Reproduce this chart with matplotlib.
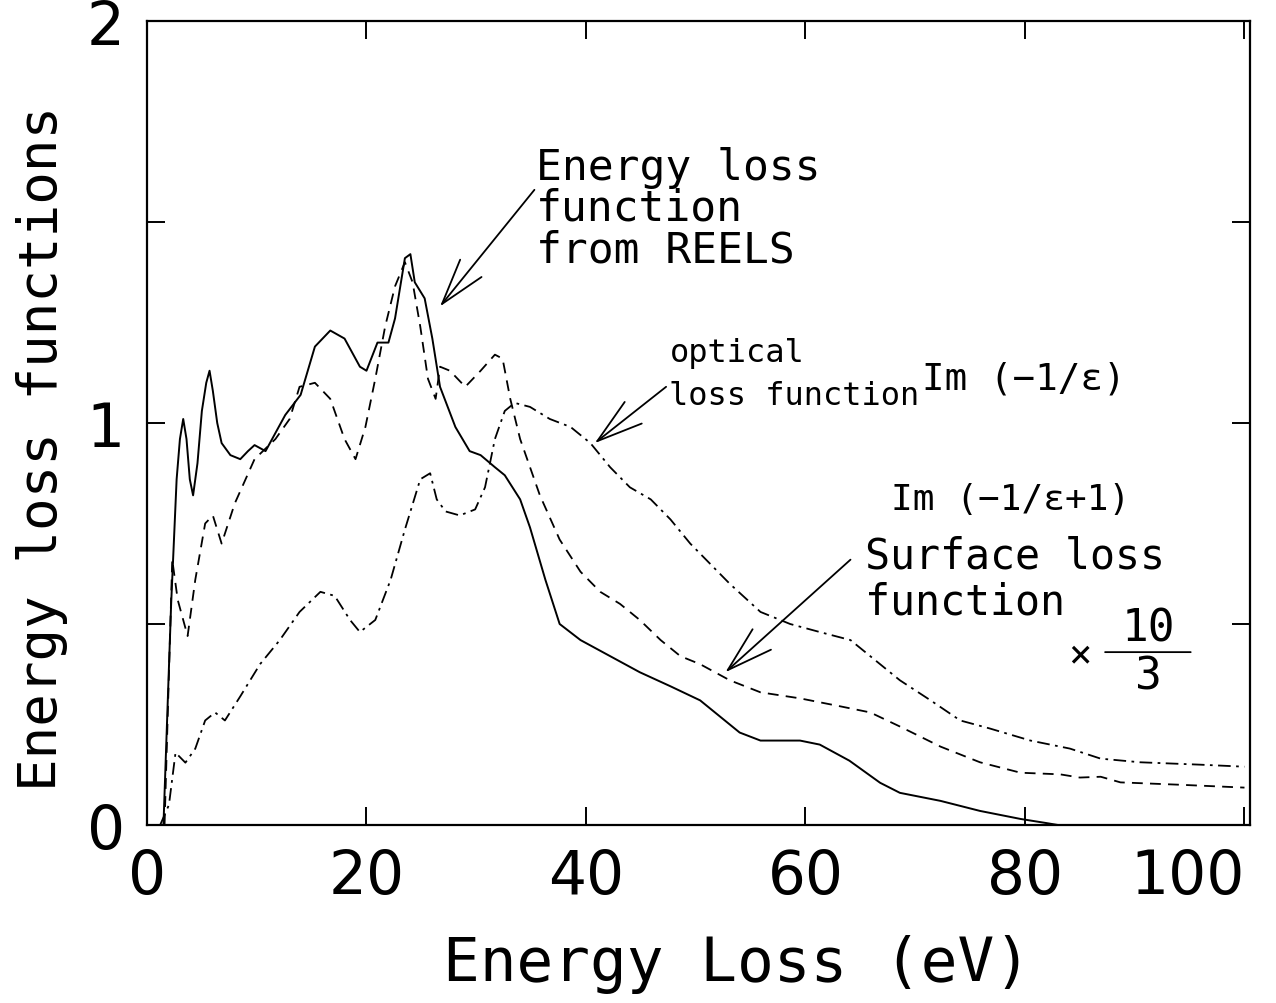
import numpy as np
import matplotlib
matplotlib.use('Agg')
import matplotlib.pyplot as plt

plt.rcParams['font.family'] = ['DejaVu Sans Mono', 'DejaVu Sans']

# Energy loss function from REELS (solid)
reels_x = [1.5, 2.2, 2.7, 3.0, 3.3, 3.6, 3.9, 4.2, 4.6, 5.0, 5.4, 5.7, 6.0, 6.4, 6.8, 7.6,
           8.5, 9.2, 9.8, 10.8, 11.8, 12.6, 14.0, 15.3, 16.7, 18.0, 19.4, 20.0, 21.0,
           22.0, 22.6, 23.5, 24.0, 24.4, 25.3, 26.0, 26.7, 28.1, 29.4, 30.4, 31.7, 32.6,
           34.0, 34.9, 36.3, 37.6, 39.5, 42.2, 44.9, 47.7, 50.4, 52.2, 54.0, 55.9, 59.5,
           61.3, 64.0, 66.8, 68.6, 72.3, 75.9, 79.6, 81.9, 83.0]
reels_y = [0.0, 0.55, 0.86, 0.96, 1.01, 0.96, 0.86, 0.82, 0.90, 1.03, 1.10, 1.13, 1.08, 1.00,
           0.95, 0.92, 0.91, 0.93, 0.945, 0.93, 0.98, 1.02, 1.07, 1.19, 1.23, 1.21, 1.14,
           1.13, 1.20, 1.20, 1.26, 1.41, 1.42, 1.35, 1.31, 1.21, 1.09, 0.99, 0.93, 0.92,
           0.89, 0.87, 0.81, 0.74, 0.61, 0.50, 0.46, 0.42, 0.38, 0.345, 0.31, 0.27, 0.23,
           0.21, 0.21, 0.20, 0.16, 0.105, 0.08, 0.06, 0.035, 0.015, 0.005, 0.0]

# Surface loss function Im(-1/(eps+1)) x 10/3 (dashed)
surf_x = [1.6, 2.3, 2.8, 3.7, 4.4, 5.3, 6.0, 6.8, 8.0, 9.8, 11.7, 13.0, 13.9, 15.3, 16.7,
          18.0, 19.0, 19.9, 20.8, 21.7, 22.6, 23.5, 24.2, 24.9, 25.6, 26.3, 26.7, 27.6,
          29.0, 30.4, 31.7, 32.4, 33.1, 34.0, 35.8, 37.6, 39.5, 41.3, 43.1, 44.9, 46.8,
          48.6, 50.4, 53.1, 55.9, 59.5, 63.2, 65.9, 68.6, 72.3, 75.9, 79.6, 83.2, 85.0,
          86.9, 88.7, 94.2, 100.0]
surf_y = [0.0, 0.66, 0.56, 0.47, 0.61, 0.75, 0.77, 0.70, 0.80, 0.91, 0.96, 1.01, 1.09, 1.10,
          1.06, 0.96, 0.91, 0.99, 1.11, 1.24, 1.34, 1.40, 1.35, 1.24, 1.11, 1.06, 1.14,
          1.13, 1.09, 1.13, 1.17, 1.16, 1.06, 0.96, 0.82, 0.71, 0.63, 0.58, 0.55, 0.51,
          0.46, 0.42, 0.40, 0.36, 0.33, 0.315, 0.295, 0.28, 0.245, 0.195, 0.156, 0.13,
          0.126, 0.118, 0.12, 0.106, 0.10, 0.093]

# Optical loss function Im(-1/eps) (dash-dot)
opt_x = [1.2, 2.0, 2.6, 3.5, 4.4, 5.3, 6.2, 7.1, 8.5, 10.3, 12.1, 13.9, 15.8, 17.1, 18.5,
         19.4, 20.8, 22.2, 23.5, 24.9, 25.8, 26.4, 27.2, 28.5, 29.9, 30.8, 31.7, 32.6,
         33.5, 34.9, 36.7, 38.6, 40.4, 42.2, 44.0, 45.9, 47.7, 49.5, 51.3, 53.1, 55.9,
         58.6, 61.3, 64.1, 65.9, 68.6, 71.4, 74.1, 76.8, 80.5, 84.1, 86.9, 90.5, 96.0,
         100.0]
opt_y = [0.0, 0.05, 0.18, 0.155, 0.19, 0.26, 0.28, 0.26, 0.32, 0.40, 0.46, 0.53, 0.58, 0.57,
         0.51, 0.48, 0.51, 0.61, 0.735, 0.86, 0.875, 0.81, 0.78, 0.77, 0.785, 0.84, 0.96,
         1.03, 1.05, 1.04, 1.01, 0.99, 0.95, 0.89, 0.84, 0.81, 0.76, 0.70, 0.65, 0.60,
         0.53, 0.50, 0.48, 0.46, 0.42, 0.36, 0.31, 0.26, 0.24, 0.21, 0.19, 0.165, 0.156,
         0.15, 0.145]

x_ticks = [0, 20, 40, 60, 80, 100]
y_ticks = [0, 0.5, 1, 1.5, 2]
y_ticklabels = ['0', '', '1', '', '2']

fig = plt.figure(figsize=(12.76, 10.04), dpi=100)
ax = fig.add_axes([0.1152, 0.1773, 0.8644, 0.8008])

ax.plot(reels_x, reels_y, color='black', lw=1.4, ls='-')
ax.plot(surf_x, surf_y, color='black', lw=1.3, ls=(0, (6, 4)))
ax.plot(opt_x, opt_y, color='black', lw=1.3, ls=(0, (7, 3, 1.5, 3)))

ax.set_xlim(0, 100.5)
ax.set_ylim(0, 2.0)
ax.set_xticks(x_ticks)
ax.set_xticklabels([str(t) for t in x_ticks], fontfamily='DejaVu Sans', fontsize=43)
ax.set_yticks(y_ticks)
ax.set_yticklabels(y_ticklabels, fontfamily='DejaVu Sans', fontsize=43)
ax.tick_params(direction='in', length=13, width=1.4, top=True, right=True, color='black')
ax.tick_params(axis='x', pad=16)
ax.tick_params(axis='y', pad=16)
ax.get_xticklabels()[-1].set_horizontalalignment('right')
for s in ax.spines.values():
    s.set_linewidth(1.6)

ax.set_xlabel('Energy Loss (eV)', fontsize=44)
ax.xaxis.set_label_coords(0.535, -0.135)
ax.set_ylabel('Energy loss functions', fontsize=39)
ax.yaxis.set_label_coords(-0.072, 0.47)

arrow = dict(arrowstyle='->,head_length=1.5,head_width=0.45', color='black', lw=1.3,
             mutation_scale=22, shrinkA=0, shrinkB=0)

ax.text(35.4, 1.69, 'Energy loss\nfunction\nfrom REELS', fontsize=31, va='top',
        ha='left', linespacing=0.98)
ax.annotate('', xy=(26.7, 1.29), xytext=(35.3, 1.58), arrowprops=arrow)

ax.text(47.6, 1.215, 'optical\nloss function', fontsize=23, va='top', ha='left',
        linespacing=1.5)
ax.text(70.6, 1.11, 'Im (\u22121/\u03b5)', fontsize=27, va='center', ha='left')
ax.annotate('', xy=(40.8, 0.95), xytext=(47.3, 1.09), arrowprops=arrow)

ax.text(67.8, 0.81, 'Im (\u22121/\u03b5+1)', fontsize=26, va='center', ha='left')
ax.text(65.4, 0.67, 'Surface loss', fontsize=30, va='center', ha='left')
ax.text(65.4, 0.555, 'function', fontsize=30, va='center', ha='left')
ax.text(85.0, 0.425, '\u00d7', fontsize=28, va='center', ha='center')
ax.text(91.2, 0.49, '10', fontsize=32, va='center', ha='center')
ax.text(91.2, 0.37, '3', fontsize=32, va='center', ha='center')
ax.annotate('', xy=(95.1, 0.43), xytext=(87.3, 0.43),
            arrowprops=dict(arrowstyle='-', color='black', lw=1.3, shrinkA=0, shrinkB=0))
ax.annotate('', xy=(52.7, 0.38), xytext=(64.1, 0.66), arrowprops=arrow)

fig.savefig('out.png', dpi=100, facecolor='white')
